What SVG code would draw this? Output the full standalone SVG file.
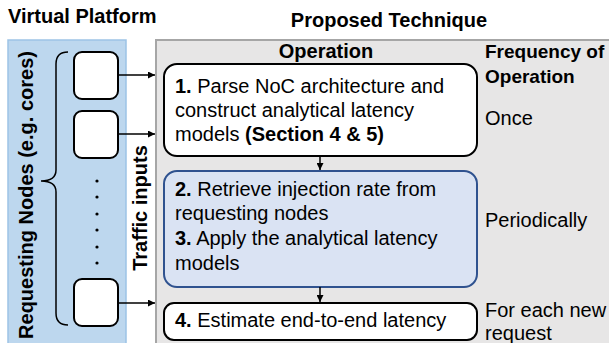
<svg xmlns="http://www.w3.org/2000/svg" width="609" height="343" viewBox="0 0 609 343">
<style>
text{font-family:"Liberation Sans",Arial,sans-serif;fill:#000}
.t{font-size:20px;font-weight:bold}
.f{font-size:19px;font-weight:bold}
.b{font-size:20px}
.bd{font-weight:bold}
.node{fill:#fff;stroke:#000;stroke-width:2}
.con{stroke:#000;stroke-width:1.5;fill:none}
</style>
<defs>
<marker id="ah" viewBox="0 0 10 10" refX="10" refY="5" markerWidth="7" markerHeight="7" markerUnits="userSpaceOnUse" orient="auto">
<path d="M0,0 L10,5 L0,10 z" fill="#000"/>
</marker>
</defs>
<rect width="609" height="343" fill="#fff"/>
<text class="t" x="8" y="23">Virtual Platform</text>
<text class="t" x="389" y="27" text-anchor="middle">Proposed Technique</text>
<g id="virtual-platform">
<rect x="8" y="40" width="118" height="306" fill="#bdd7ee" stroke="#9dc3e6" stroke-width="1.5"/>
<text class="t" transform="translate(33,195) rotate(-90)" text-anchor="middle">Requesting Nodes (e.g. cores)</text>
<path d="M68,52 Q56,52 56,64 L56,170 Q56,181 41,181 Q56,181 56,192 L56,313 Q56,325 68,325" fill="none" stroke="#000" stroke-width="1.5"/>
<g fill="#000">
<circle cx="97" cy="181" r="1.6"/><circle cx="97" cy="197" r="1.6"/><circle cx="97" cy="214" r="1.6"/><circle cx="97" cy="230" r="1.6"/><circle cx="97" cy="247" r="1.6"/><circle cx="97" cy="263" r="1.6"/>
</g>
</g>
<g id="req-node-1"><rect class="node" x="74" y="52" width="44" height="47" rx="8"/></g>
<g id="req-node-2"><rect class="node" x="74" y="111" width="44" height="47" rx="8"/></g>
<g id="req-node-n"><rect class="node" x="74" y="279" width="44" height="47" rx="8"/></g>
<g id="proposed-technique">
<rect x="156" y="40" width="460" height="310" fill="#e7e6e6" stroke="#a6a6a6" stroke-width="2"/>
<text class="t" transform="translate(147,208) rotate(-90)" text-anchor="middle">Traffic inputs</text>
<text class="t" x="326" y="58" text-anchor="middle">Operation</text>
<text class="f" x="485" y="58">Frequency of</text>
<text class="f" x="485" y="83">Operation</text>
<text class="b" x="485" y="125">Once</text>
<text class="b" x="485" y="227">Periodically</text>
<text class="b" x="485" y="317">For each new</text>
<text class="b" x="485" y="340">request</text>
</g>
<g id="step-1">
<rect class="node" x="164" y="64" width="313" height="92" rx="13"/>
<text class="b" x="175" y="93"><tspan class="bd">1.</tspan> Parse NoC architecture and</text>
<text class="b" x="175" y="117">construct analytical latency</text>
<text class="b" x="175" y="141">models <tspan class="bd">(Section 4 &amp; 5)</tspan></text>
</g>
<g id="step-2-3">
<rect x="164" y="171" width="313" height="116" rx="13" fill="#dae3f3" stroke="#2f528f" stroke-width="2"/>
<text class="b" x="175" y="196"><tspan class="bd">2.</tspan> Retrieve injection rate from</text>
<text class="b" x="175" y="220">requesting nodes</text>
<text class="b" x="175" y="245"><tspan class="bd">3.</tspan> Apply the analytical latency</text>
<text class="b" x="175" y="270">models</text>
</g>
<g id="step-4">
<rect class="node" x="164" y="303" width="313" height="37" rx="10"/>
<text class="b" x="175" y="327"><tspan class="bd">4.</tspan> Estimate end-to-end latency</text>
</g>
<g id="connectors">
<line class="con" x1="118" y1="75" x2="155" y2="75" marker-end="url(#ah)"/>
<line class="con" x1="118" y1="134" x2="155" y2="134" marker-end="url(#ah)"/>
<line class="con" x1="118" y1="303" x2="155" y2="303" marker-end="url(#ah)"/>
<line class="con" x1="320" y1="156" x2="320" y2="170" marker-end="url(#ah)"/>
<line class="con" x1="320" y1="287" x2="320" y2="302" marker-end="url(#ah)"/>
</g>
</svg>
